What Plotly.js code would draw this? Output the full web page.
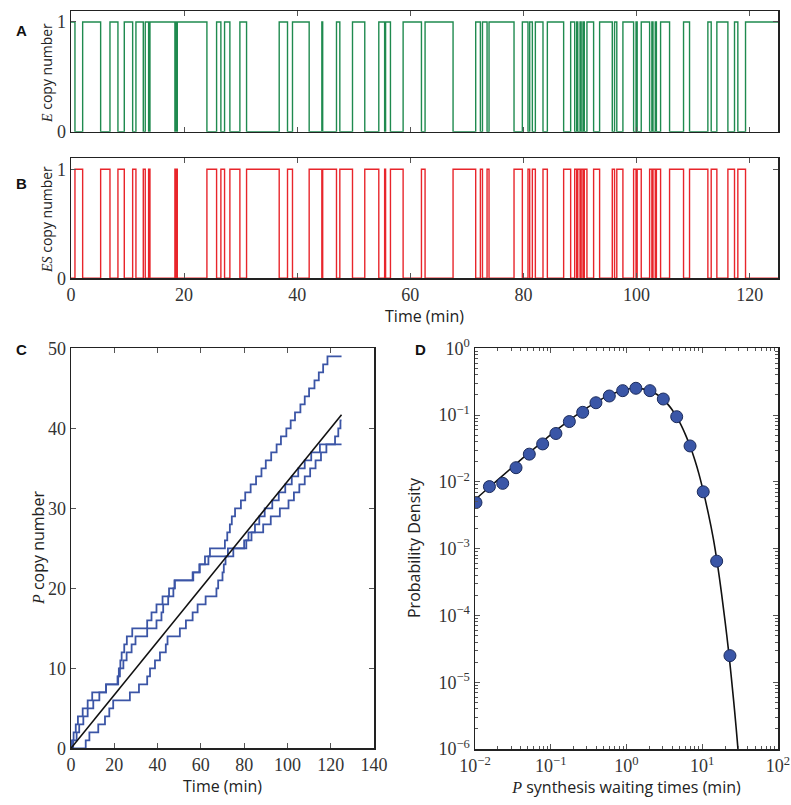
<!DOCTYPE html>
<html>
<head>
<meta charset="utf-8">
<script src="https://cdn.plot.ly/plotly-3.0.1.min.js"></script>
<style>html,body{margin:0;padding:0;background:#fff;}#chart{width:791px;height:805px;}</style>
</head>
<body>
<div id="chart"></div>
<script>
// ---------- Data ----------
// Panels A/B: intervals (min) during which the enzyme is bound (ES = 1, E = 0)
const esOnStart = [0.7, 5.24, 8.3, 10.9, 12.78, 13.72, 18.37, 18.62, 24.03, 26.5, 28.09, 31.04, 38.28, 42.11, 44.5, 47.53, 51.94, 55.45, 56.48, 61.96, 67.55, 72.38, 73.56, 78.33, 80.8, 81.57, 83.45, 87.1, 89.05, 89.6, 90.2, 90.75, 92.4, 95.7, 96.5, 99.47, 100.1, 102.3, 102.9, 103.5, 105.83, 109.36, 113.19, 116.14, 117.9];
const esOnEnd   = [2.06, 6.89, 9.42, 11.48, 13.13, 13.96, 18.5, 18.79, 25.74, 27.15, 29.86, 36.81, 39.16, 44.35, 46.94, 49.77, 54.42, 55.62, 58.72, 62.6, 71.55, 72.75, 73.91, 79.8, 81.1, 82.1, 84.22, 88.34, 89.4, 90.0, 90.52, 91.22, 93.46, 96.1, 97.58, 99.9, 100.82, 102.7, 103.3, 104.24, 108.3, 112.6, 114.19, 117.31, 119.26];
const simEnd = 125;

// Panel C: times (min) of each P synthesis event, three trajectories
const p1Jumps = [0.4, 1.2, 2.2, 3.2, 5.4, 7.7, 9.8, 16.2, 21.5, 22.1, 22.8, 23.4, 24.6, 25.8, 28.3, 35.2, 37.2, 39.5, 42.3, 45.3, 47.8, 56.2, 59.3, 61.9, 64.2, 71.1, 72.2, 73.4, 74.3, 75.8, 78.5, 80.5, 83, 85.5, 88, 90, 92.5, 95, 97, 99.5, 101.5, 103.5, 106, 108, 110, 112.5, 114.5, 116.5, 118.5];
const p2Jumps = [1.0, 2.6, 3.8, 5.7, 7.7, 10.3, 13.1, 16.2, 21.8, 22.6, 24.2, 25.7, 28, 29.8, 35.2, 39.5, 41.8, 42.6, 44.9, 47.3, 48, 56.5, 59.5, 63.5, 72.5, 80, 82, 85, 87, 89.5, 93, 96, 99, 102, 105, 108, 111, 115, 122, 123.5, 124.5];
const p3Jumps = [6.8, 8.5, 12.6, 15.7, 17.7, 19.5, 27.2, 31.4, 35.2, 36.5, 38.8, 41.1, 43.8, 44.6, 50.3, 53.1, 56.2, 58.5, 62.2, 67.2, 68, 70, 70.6, 71.4, 75, 81, 83.4, 88.8, 92.3, 96.5, 100.5, 103, 105.5, 108, 110.5, 113, 115.5, 118];
const meanLineT = [0, 125];
const meanLineP = [0, 41.7];

// Panel D: waiting-time histogram and fitted density
const waitBins    = [0.0103, 0.0155, 0.0232, 0.0348, 0.0521, 0.0782, 0.117, 0.176, 0.264, 0.395, 0.593, 0.89, 1.33, 2.04, 3.06, 4.6, 6.9, 10.3, 15.5, 23.2];
const waitDensity = [0.0049, 0.0085, 0.0095, 0.0163, 0.026, 0.037, 0.053, 0.080, 0.110, 0.153, 0.193, 0.232, 0.252, 0.232, 0.174, 0.0946, 0.0345, 0.0071, 0.00065, 0.000025];
const fitT       = [0.01, 0.015, 0.02, 0.03, 0.05, 0.07, 0.1, 0.15, 0.2, 0.3, 0.5, 0.7, 1.0, 1.3, 1.7, 2.0, 2.5, 3.0, 3.5, 4.0, 5.0, 6.0, 7.0, 8.0, 9.0, 10.0, 12.0, 14.0, 16.0, 18.0, 20.0, 22.0, 24.0, 26.0, 28.0, 29.5, 31.0];
const fitDensity = [0.0054, 0.0081, 0.0107, 0.016, 0.0265, 0.036, 0.051, 0.073, 0.093, 0.128, 0.181, 0.215, 0.243, 0.252, 0.245, 0.232, 0.205, 0.176, 0.146, 0.12, 0.079, 0.051, 0.033, 0.021, 0.0134, 0.0084, 0.0034, 0.00141, 0.00055, 0.00021, 0.000082, 0.000033, 0.000013, 0.0000052, 0.0000021, 0.00000105, 0.0000005];

const yTicksAB = [0, 1];
const xTicksAB = [0, 20, 40, 60, 80, 100, 120];
const xTicksC = [0, 20, 40, 60, 80, 100, 120, 140];
const yTicksC = [0, 10, 20, 30, 40, 50];
const xTicksD = [0.01, 0.1, 1, 10, 100];
const xTickTextD = ['10<sup>−2</sup>', '10<sup>−1</sup>', '10<sup>0</sup>', '10<sup>1</sup>', '10<sup>2</sup>'];
const yTicksD = [1, 0.1, 0.01, 0.001, 0.0001, 0.00001, 0.000001];
const yTickTextD = ['10<sup>0</sup>', '10<sup>−1</sup>', '10<sup>−2</sup>', '10<sup>−3</sup>', '10<sup>−4</sup>', '10<sup>−5</sup>', '10<sup>−6</sup>'];

// ---------- Build step paths from the data ----------
const esX = [0], esY = [0];
for (let i = 0; i < esOnStart.length; i++) {
  esX.push(esOnStart[i], esOnStart[i], esOnEnd[i], esOnEnd[i]);
  esY.push(0, 1, 1, 0);
}
esX.push(simEnd); esY.push(0);
const eY = esY.map(v => 1 - v);

function stepPath(jumps) {
  const x = [0], y = [0];
  jumps.forEach((t, i) => { x.push(t); y.push(i + 1); });
  x.push(simEnd); y.push(jumps.length);
  return {x, y};
}
const p1 = stepPath(p1Jumps), p2 = stepPath(p2Jumps), p3 = stepPath(p3Jumps);

// ---------- Styling ----------
const SERIF = 'Liberation Serif, DejaVu Serif, serif';
const SANS = 'Open Sans, Liberation Sans, DejaVu Sans, sans-serif';
const AX = '#222222';
const W = 791, H = 805;
function dom(a, b, total) { return [a / total, b / total]; }
function ydom(top, bottom) { return [1 - bottom / H, 1 - top / H]; }

const baseAxis = {
  showline: true, linecolor: AX, linewidth: 1.5, mirror: 'ticks',
  ticks: 'inside', ticklen: 5, tickwidth: 1, tickcolor: '#555',
  showgrid: false, zeroline: false,
  tickfont: {family: SERIF, size: 18, color: '#333'},
  fixedrange: true
};
function axis(extra) { return Object.assign({}, baseAxis, extra); }
const TF = {family: SANS, size: 16, color: '#222'};
const TFS = {family: SANS, size: 14, color: '#222'};
const it = s => '<i><span style="font-family:Liberation Serif">' + s + '</span></i>';

const blue = '#3b55a6';
const traces = [
  {x: esX, y: eY, xaxis: 'x', yaxis: 'y', mode: 'lines', line: {color: '#1f8a4f', width: 1.4}, name: 'E', hoverinfo: 'skip'},
  {x: esX, y: esY, xaxis: 'x2', yaxis: 'y2', mode: 'lines', line: {color: '#e8252b', width: 1.4}, name: 'ES', hoverinfo: 'skip'},
  {x: p1.x, y: p1.y, xaxis: 'x3', yaxis: 'y3', mode: 'lines', line: {color: blue, width: 1.8, shape: 'hv'}, name: 'P run 1'},
  {x: p2.x, y: p2.y, xaxis: 'x3', yaxis: 'y3', mode: 'lines', line: {color: blue, width: 1.8, shape: 'hv'}, name: 'P run 2'},
  {x: p3.x, y: p3.y, xaxis: 'x3', yaxis: 'y3', mode: 'lines', line: {color: blue, width: 1.8, shape: 'hv'}, name: 'P run 3'},
  {x: meanLineT, y: meanLineP, xaxis: 'x3', yaxis: 'y3', mode: 'lines', line: {color: '#111', width: 1.6}, name: 'mean'},
  {x: fitT, y: fitDensity, xaxis: 'x4', yaxis: 'y4', mode: 'lines', line: {color: '#111', width: 1.6, shape: 'spline'}, name: 'theory'},
  {x: waitBins, y: waitDensity, xaxis: 'x4', yaxis: 'y4', mode: 'markers', marker: {size: 12, color: '#3a56a7', line: {color: '#1b2b5c', width: 1}}, name: 'histogram'}
];

function ytitle(text, px, py, font) {
  return {text: text, x: px / W, y: 1 - py / H, xref: 'paper', yref: 'paper', textangle: -90,
          showarrow: false, xanchor: 'center', yanchor: 'middle', font: font};
}
function panelLabel(text, px, py) {
  return {text: '<b>' + text + '</b>', x: px / W, y: 1 - py / H, xref: 'paper', yref: 'paper', showarrow: false,
          font: {family: 'Liberation Sans, sans-serif', size: 15, color: '#111'}};
}

const layout = {
  width: W, height: H,
  margin: {l: 0, r: 0, t: 0, b: 0},
  paper_bgcolor: '#fff', plot_bgcolor: '#fff',
  showlegend: false,
  font: {family: SANS, color: '#222'},
  xaxis: axis({domain: dom(71, 778, W), range: [0, 125], tickvals: xTicksAB, showticklabels: false, anchor: 'y'}),
  yaxis: axis({domain: ydom(11, 131.7), range: [0, 1.1], tickvals: yTicksAB, anchor: 'x'}),
  xaxis2: axis({domain: dom(71, 778, W), range: [0, 125], tickvals: xTicksAB, anchor: 'y2',
    title: {text: 'Time (min)', font: TF, standoff: 2}}),
  yaxis2: axis({domain: ydom(158.3, 278.3), range: [0, 1.1], tickvals: yTicksAB, anchor: 'x2'}),
  xaxis3: axis({domain: dom(71, 374, W), range: [0, 140], tickvals: xTicksC, anchor: 'y3',
    title: {text: 'Time (min)', font: TF, standoff: 2}}),
  yaxis3: axis({domain: ydom(348.3, 748.3), range: [0, 50], tickvals: yTicksC, anchor: 'x3'}),
  xaxis4: axis({domain: dom(475, 778, W), type: 'log', range: [-2, 2], tickvals: xTicksD, ticktext: xTickTextD, anchor: 'y4',
    minor: {ticks: 'inside', ticklen: 3, tickcolor: '#555', dtick: 'D1', showgrid: false},
    title: {text: it('P') + ' synthesis waiting times (min)', font: TF, standoff: 2}}),
  yaxis4: axis({domain: ydom(348.3, 749), type: 'log', range: [-6, 0], tickvals: yTicksD, ticktext: yTickTextD, anchor: 'x4',
    minor: {ticks: 'inside', ticklen: 3, tickcolor: '#555', dtick: 'D1', showgrid: false}}),
  annotations: [
    ytitle(it('E') + ' copy number', 46, 73, TFS),
    ytitle(it('ES') + ' copy number', 46, 220, TFS),
    ytitle(it('P') + ' copy number', 38, 548, TF),
    ytitle('Probability Density', 414, 548, TF),
    panelLabel('A', 14, 20),
    panelLabel('B', 14, 173),
    panelLabel('C', 14, 349),
    panelLabel('D', 420, 349)
  ]
};

Plotly.newPlot('chart', traces, layout, {staticPlot: true, displayModeBar: false});
</script>
</body>
</html>
